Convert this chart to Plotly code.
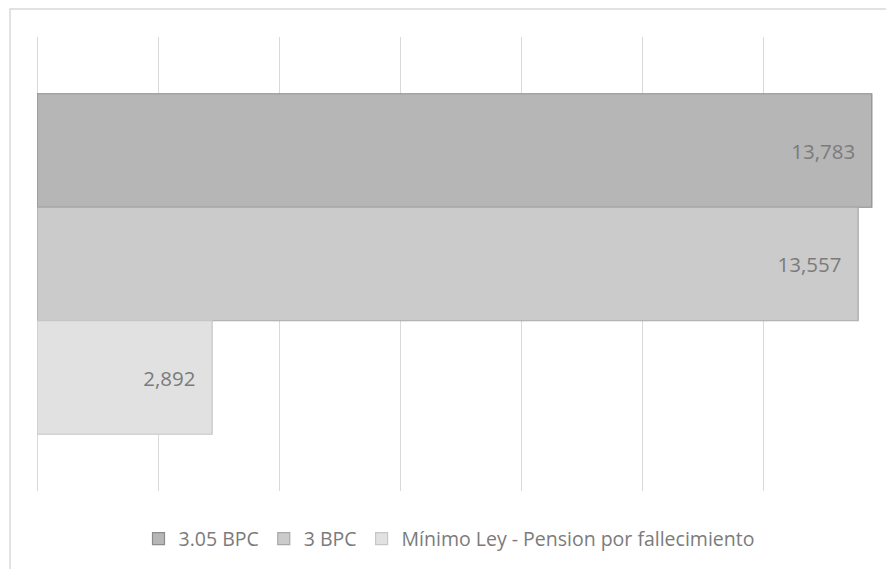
import plotly.graph_objects as go

# ---- data ----
categories = ["Pensión"]
series_names = ["3.05 BPC", "3 BPC", "Mínimo Ley - Pension por fallecimiento"]
series_values = [[13783], [13557], [2892]]
grid_ticks = [0, 2000, 4000, 6000, 8000, 10000, 12000]

# ---- styling ----
fills = ["#b6b6b6", "#cbcbcb", "#e1e1e1"]
borders = ["#8c8c8c", "#a8a8a8", "#c6c6c6"]
FONT = "Open Sans"
TXT = "#7b7b7b"
PAD = "\u2002\u2009"

fig = go.Figure()
for name, vals, fc, bc in zip(series_names, series_values, fills, borders):
    fig.add_trace(go.Bar(
        y=categories, x=vals, name=name, orientation="h",
        marker=dict(color=fc, line=dict(color=bc, width=1.2)),
        texttemplate="%{x:,}" + PAD, textposition="inside",
        insidetextanchor="end", textangle=0,
        textfont=dict(family=FONT, size=20.5, color=TXT),
        hoverinfo="skip",
    ))

W, H = 886, 569
L, R, T, B = 37, 1, 37, 78
pw, ph = W - L - R, H - T - B

def px_x(px):
    return (px - L) / pw

def px_y(py):
    return 1 - (py - T) / ph

fig.update_layout(
    width=W, height=H,
    margin=dict(l=L, r=R, t=T, b=B),
    paper_bgcolor="white", plot_bgcolor="white",
    barmode="group", bargap=0.25, bargroupgap=0,
    xaxis=dict(range=[0, 14000], tickvals=grid_ticks, showticklabels=False,
               showgrid=True, gridcolor="#d9d9d9", gridwidth=1,
               zeroline=True, zerolinecolor="#d9d9d9", zerolinewidth=1,
               showline=False, fixedrange=True),
    yaxis=dict(autorange="reversed", showticklabels=False, showgrid=False,
               zeroline=False, showline=False, fixedrange=True),
    showlegend=True,
    legend=dict(orientation="h", x=0.5 - 12 / pw, xanchor="center",
                y=px_y(539), yanchor="middle",
                font=dict(family=FONT, size=19.5, color=TXT),
                bgcolor="rgba(0,0,0,0)"),
    shapes=[dict(type="rect", xref="paper", yref="paper",
                 x0=px_x(10), x1=px_x(W + 20), y0=px_y(H + 20), y1=px_y(9),
                 line=dict(color="#d9d9d9", width=1.5), layer="below")],
)

fig.write_html(
    "out.html",
    config={"displayModeBar": False},
    post_script="document.body.style.margin='0';document.body.style.overflow='hidden';",
)
